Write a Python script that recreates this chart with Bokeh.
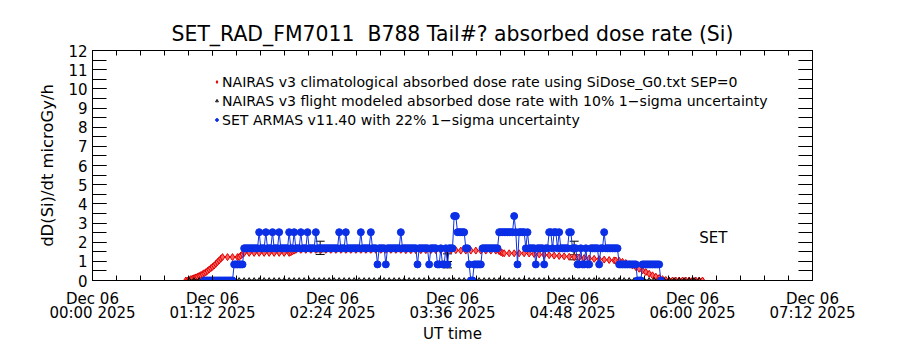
from bokeh.plotting import figure
from bokeh.layouts import row, column
from bokeh.models import (FixedTicker, LinearAxis, Legend, LegendItem, Whisker, TeeHead,
                          ColumnDataSource, Range1d, Label, Spacer)
from bokeh.embed import file_html
from bokeh.resources import INLINE

FONT = "DejaVu Sans"
TITLE = "SET_RAD_FM7011\u00a0 B788 Tail#? absorbed dose rate (Si)"

# ---------------- data (minutes after 2025-12-06 00:00 UT) ----------------
x_ticks = [0, 72, 144, 216, 288, 360, 432]
x_tick_labels = ["Dec 06\n00:00 2025", "Dec 06\n01:12 2025", "Dec 06\n02:24 2025",
                 "Dec 06\n03:36 2025", "Dec 06\n04:48 2025", "Dec 06\n06:00 2025",
                 "Dec 06\n07:12 2025"]
y_ticks = [0, 1, 2, 3, 4, 5, 6, 7, 8, 9, 10, 11, 12]

# NAIRAS v3 climatological absorbed dose rate (red)
red_t = [56, 57, 58, 59, 60, 61, 62, 63, 64, 65, 66, 67, 68, 69, 70, 71, 72, 73, 74, 75, 76, 77, 78,
         81, 84, 87, 88, 89, 90, 91,
         94, 97, 100, 103, 106, 109, 112, 115, 118, 119, 120, 121, 122,
         125, 128, 131, 134, 137, 140, 143, 146, 149, 152, 155, 158, 161, 164, 167, 170, 173, 176,
         179, 182, 185, 188, 191, 194, 197, 200, 203, 206, 209, 212, 215, 218, 221, 224, 227, 230,
         233, 236, 239, 242, 244, 245, 246, 247, 250, 253, 256, 259, 262, 265, 268, 271, 274, 277,
         280, 283, 286, 289, 292, 295, 298, 301, 304, 307, 310, 313,
         314, 316, 318, 320, 322, 324, 326, 328, 330, 332, 334, 336, 338, 340, 342, 344, 346,
         348, 350, 352, 354, 356, 358, 360, 362, 364, 366]
red_v = [0.0, 0.0, 0.03, 0.07, 0.1, 0.13, 0.16, 0.2, 0.24, 0.28, 0.33, 0.38, 0.43, 0.5, 0.57, 0.64,
         0.71, 0.78, 0.87, 0.96, 1.05, 1.14, 1.22,
         1.22, 1.22, 1.22, 1.22, 1.3, 1.38, 1.44,
         1.44, 1.44, 1.44, 1.44, 1.44, 1.44, 1.44, 1.44, 1.44, 1.47, 1.52, 1.56, 1.6,
         1.6, 1.6, 1.6, 1.6, 1.6, 1.6, 1.6, 1.6, 1.6, 1.6, 1.6, 1.6, 1.6, 1.6, 1.6, 1.6, 1.6, 1.6,
         1.6, 1.6, 1.6, 1.58, 1.58, 1.58, 1.58, 1.58, 1.58, 1.58, 1.58, 1.58, 1.58, 1.58, 1.56,
         1.56, 1.56, 1.56, 1.56, 1.56, 1.56, 1.56, 1.53, 1.48, 1.43, 1.42, 1.42, 1.42, 1.42, 1.42,
         1.41, 1.38, 1.36, 1.34, 1.32, 1.3,
         1.28, 1.26, 1.24, 1.22, 1.2, 1.17, 1.15, 1.13, 1.11, 1.09, 1.07, 1.05,
         1.04, 1.03, 0.97, 0.91, 0.84, 0.78, 0.7, 0.61, 0.52, 0.44, 0.35, 0.27, 0.2, 0.13, 0.07,
         0.03, 0.0,
         0.0, 0.0, 0.0, 0.0, 0.0, 0.0, 0.0, 0.0, 0.0, 0.0]

# NAIRAS v3 flight modeled absorbed dose rate (black) - sits on zero
black_t = list(range(58, 367, 3))
black_v = [0.0 for _ in black_t]

# SET ARMAS v11.40, one sample per minute starting at minute 67 (blue)
blue_v = [
    0, 0, 0, 0, 0, 0, 0, 0, 0, 0, 0, 0, 0, 0, 0, 0, 0, 0,
    0.84, 0.84, 0.84, 0.84, 0.84, 0.84,
    1.68, 1.68, 1.68, 1.68, 1.68, 1.68, 1.68, 1.68, 1.68,
    2.52, 1.68, 1.68, 1.68, 2.52, 1.68, 1.68, 1.68, 2.52, 1.68, 1.68, 1.68,
    2.52, 1.68, 1.68, 1.68, 1.68, 1.68, 2.52, 1.68, 1.68, 2.52, 1.68, 1.68, 1.68,
    2.52, 1.68, 1.68, 1.68, 2.52, 1.68, 1.68, 1.68, 1.68, 2.52,
    1.68, 1.68, 1.68, 1.68, 1.68, 1.68, 1.68, 1.68, 1.68, 1.68, 1.68, 1.68, 1.68,
    2.52, 1.68, 1.68, 1.68, 2.52,
    1.68, 1.68, 1.68, 1.68, 1.68, 1.68, 1.68, 1.68, 2.52,
    1.68, 1.68, 1.68, 1.68, 1.68, 2.52, 1.68, 1.68, 1.68,
    0.84, 1.68, 1.68, 1.68, 1.68, 0.84,
    1.68, 1.68, 1.68, 1.68, 1.68, 1.68, 1.68, 1.68, 2.52,
    1.68, 1.68, 1.68, 1.68, 1.68, 1.68, 1.68, 1.68, 1.68, 0.84,
    1.68, 1.68, 1.68, 1.68, 1.68, 1.68, 0.84,
    1.68, 1.68, 1.68, 1.68,
    0.84, 0.84, 1.68, 0.84, 0.84, 1.68, 0.84, 1.68, 1.68, 1.68,
    3.36, 3.36, 2.52, 2.52, 2.52, 2.52, 2.52, 1.68, 1.68, 0.84, 0, 0,
    0.84, 0.84, 0.84, 0.84, 0.84,
    1.68, 1.68, 1.68, 1.68, 1.68, 1.68, 1.68, 1.68, 1.68, 1.68,
    2.52, 2.52, 2.52, 2.52, 2.52, 2.52, 2.52, 2.52, 2.52, 3.36, 2.52, 0.84,
    2.52, 2.52, 2.52, 2.52, 1.68, 2.52,
    1.68, 1.68, 1.68, 1.68, 0.84, 1.68, 1.68, 1.68, 1.68, 0.84, 1.68, 1.68,
    2.52, 2.52, 1.68, 2.52, 2.52, 1.68, 2.52,
    1.68, 1.68, 1.68, 1.68, 1.68, 2.52, 2.52, 1.68, 1.68, 1.68,
    0.84, 0.84, 1.68, 0.84, 0.84, 1.68, 0.84, 0.84,
    1.68, 1.68, 1.68, 1.68, 1.68, 0.84, 1.68, 1.68, 2.52,
    1.68, 1.68, 1.68, 1.68, 1.68, 1.68, 1.68, 1.68,
    0.84, 0.84, 0.84, 0.84, 0.84, 0.84, 0.84, 0.84, 0.84, 0.84, 0.84,
    0, 0, 0,
    0.84, 0.84, 0.84, 0.84, 0.84, 0.84, 0.84, 0.84, 0.84, 0.84, 0.84,
    0,
]
blue_t = list(range(67, 67 + len(blue_v)))

# error bars (black): minute, lower, upper
err_t = [136.6, 136.6, 213.0, 213.0, 289.0, 289.0]
err_lo = [1.36, 1.50, 0.66, 0.99, 1.08, 1.34]
err_hi = [2.05, 1.74, 1.65, 1.39, 2.05, 1.60]

legend_labels = [
    "NAIRAS v3 climatological absorbed dose rate using SiDose_G0.txt SEP=0",
    "NAIRAS v3 flight modeled absorbed dose rate with 10% 1\u2212sigma uncertainty",
    "SET ARMAS v11.40 with 22% 1\u2212sigma uncertainty",
]

# ---------------- figure ----------------
p = figure(frame_width=720, frame_height=230, x_range=Range1d(0, 432), y_range=Range1d(0, 12),
           output_backend="svg", toolbar_location=None, title=TITLE,
           min_border_left=55, min_border_right=90, min_border_top=50, min_border_bottom=61)
p.background_fill_color = "white"
p.border_fill_color = "white"
p.outline_line_color = "black"
p.xgrid.visible = False
p.ygrid.visible = False
p.title.align = "center"
p.title.offset = -7
p.title.text_font = FONT
p.title.text_font_size = "20.4px"
p.title.text_font_style = "normal"
p.title.text_color = "black"

x_minor = [i * 14.4 for i in range(31)]
y_minor = [i * 0.5 for i in range(25)]
xt = FixedTicker(ticks=x_ticks, minor_ticks=x_minor)
yt = FixedTicker(ticks=y_ticks, minor_ticks=y_minor)


def style(ax, tick_len, labels=True, size="15px"):
    ax.major_tick_in = tick_len
    ax.major_tick_out = 0
    ax.minor_tick_in = tick_len
    ax.minor_tick_out = 0
    ax.axis_line_color = "black"
    ax.major_tick_line_color = "black"
    ax.minor_tick_line_color = "black"
    ax.major_label_text_font = FONT
    ax.major_label_text_font_size = size
    if labels:
        ax.major_label_text_color = "black"
    else:
        ax.major_label_text_color = None
        ax.major_label_standoff = 0
    ax.axis_label_text_font = FONT
    ax.axis_label_text_font_style = "normal"
    ax.axis_label_text_color = "black"


xa = p.xaxis[0]
xa.ticker = xt
xa.major_label_overrides = {t: s for t, s in zip(x_ticks, x_tick_labels)}
style(xa, 5, True, "15px")
xa.major_label_text_line_height = 0.78
xa.major_label_standoff = 9
xa.axis_label = "UT time"
xa.axis_label_text_font_size = "15px"
xa.axis_label_standoff = 0

ya = p.yaxis[0]
ya.ticker = yt
style(ya, 14, True, "15px")
ya.major_label_standoff = 5
ya.axis_label = "dD(Si)/dt microGy/h"
ya.axis_label_text_font_size = "16.4px"
ya.axis_label_standoff = 8

top = LinearAxis(ticker=xt)
style(top, 5, False)
p.add_layout(top, "above")
right = LinearAxis(ticker=yt)
style(right, 14, False)
p.add_layout(right, "right")

# red climatological
p.line(red_t, red_v, line_color="#e00000", line_width=1)
r_red = p.scatter(red_t, red_v, marker="diamond", size=7, fill_color="#ff6060",
                  line_color="#dd0000", line_width=1)
# black flight model
p.line(black_t, black_v, line_color="black", line_width=2)
r_blk = p.scatter(black_t, black_v, marker="triangle", size=5, fill_alpha=0,
                  line_color="black", line_width=1)
# blue ARMAS
p.line(blue_t, blue_v, line_color="#0a2fe6", line_width=1)
r_blue = p.scatter(blue_t, blue_v, marker="circle", size=7, fill_color="#0a2fe6",
                   line_color="#0a2fe6")

src = ColumnDataSource(dict(base=err_t, lower=err_lo, upper=err_hi))
p.add_layout(Whisker(source=src, base="base", lower="lower", upper="upper", dimension="height",
                     line_color="black", line_width=1,
                     upper_head=TeeHead(size=9, line_color="black", line_width=1),
                     lower_head=TeeHead(size=9, line_color="black", line_width=1)))

p.add_layout(Label(x=364, y=2.22, text="SET", text_font=FONT, text_font_size="15px",
                   text_baseline="middle", text_align="left", text_color="black"))

legend = Legend(items=[LegendItem(label=legend_labels[0], renderers=[r_red]),
                       LegendItem(label=legend_labels[1], renderers=[r_blk]),
                       LegendItem(label=legend_labels[2], renderers=[r_blue])],
                location=(121, 151), padding=0, margin=0, spacing=0,
                glyph_width=7, glyph_height=19, label_height=19, label_standoff=2,
                label_text_font=FONT, label_text_font_size="14.1px",
                label_text_color="black",
                border_line_alpha=0, background_fill_alpha=0)
p.add_layout(legend, "center")

layout = column(row(Spacer(width=35, height=341), p), Spacer(width=900, height=9))
open("out.html", "w").write(file_html(layout, INLINE))
